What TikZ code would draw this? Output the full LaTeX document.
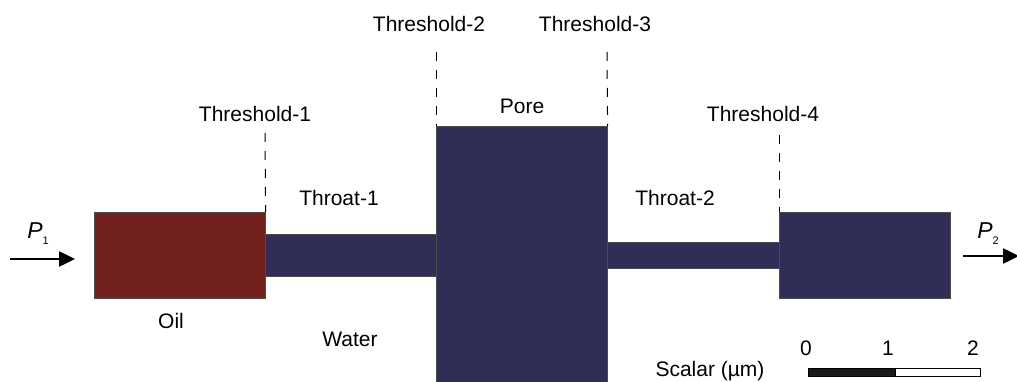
\documentclass[tikz,border=0pt]{standalone}
\usepackage{fontspec}
\setmainfont{Liberation Sans}
\usetikzlibrary{arrows.meta}
\definecolor{oilred}{RGB}{114,33,31}
\definecolor{navy}{RGB}{48,45,86}
\tikzset{
  lbl/.style={font=\fontsize{21}{25}\selectfont, inner sep=0pt},
  blk/.style={draw=black!70, line width=0.6pt, inner sep=0pt, anchor=north west},
  oilbox/.style={blk, fill=oilred},
  waterbox/.style={blk, fill=navy},
  thr/.style={dash pattern=on 9pt off 9pt, line width=1pt, draw=black},
  flow/.style={line width=2.5pt, -{Triangle[length=16pt,width=15pt]}}
}
\begin{document}
\begin{tikzpicture}[x=1pt,y=-1pt]
\useasboundingbox (0,0) rectangle (1017,382);
% channel
\node[waterbox, minimum width=171pt, minimum height=42.5pt] (throat1) at (265,233.5) {};
\node[waterbox, minimum width=172pt, minimum height=26pt] (throat2) at (607,242) {};
\node[oilbox, minimum width=171.5pt, minimum height=86pt] (oil) at (93.5,212) {};
\node[waterbox, minimum width=171pt, minimum height=86pt] (right) at (779,212) {};
\node[waterbox, minimum width=171pt, minimum height=260pt] (pore) at (436,126) {};
% thresholds
\coordinate (t1) at (265,133);
\coordinate (t2) at (436,52);
\coordinate (t3) at (607,52);
\coordinate (t4) at (779,135);
\draw[thr] (t1) -- (oil.north east);
\draw[thr] (t2) -- (pore.north west);
\draw[thr] (t3) -- (pore.north east);
\draw[thr] (t4) -- (right.north west);
% labels
\node[lbl] (lt1) at (255,114) {Threshold-1};
\node[lbl] (lt2) at (429,24) {Threshold-2};
\node[lbl] (lt3) at (595,24) {Threshold-3};
\node[lbl] (lt4) at (763,114) {Threshold-4};
\node[lbl] (lpore) at (522,106) {Pore};
\node[lbl] (lth1) at (339,198) {Throat-1};
\node[lbl] (lth2) at (675,198) {Throat-2};
\node[lbl] (loil) at (171,321) {Oil};
\node[lbl] (lwater) at (350,339) {Water};
% pressures
\node[lbl] (p1) at (38,234) {\fontsize{23}{26}\selectfont\textit{P}\raisebox{-0.5ex}{\fontsize{11}{12}\selectfont 1}};
\node[lbl] (p2) at (988,234) {\fontsize{23}{26}\selectfont\textit{P}\raisebox{-0.5ex}{\fontsize{11}{12}\selectfont 2}};
\coordinate (a1s) at (10,259);
\coordinate (a1e) at (75,259);
\coordinate (a2s) at (963,256);
\coordinate (a2e) at (1019,256);
\draw[flow] (a1s) -- (a1e);
\draw[flow] (a2s) -- (a2e);
% scale bar
\node[lbl] (s0) at (806,348) {0};
\node[lbl] (s1) at (888,348) {1};
\node[lbl] (s2) at (973,348) {2};
\node[lbl] (scal) at (710,371) {Scalar (\textmu m)};
\node[draw=black, fill=black!90, line width=0.8pt, inner sep=0pt, anchor=north west, minimum width=87pt, minimum height=8pt] (bar1) at (808,368) {};
\node[draw=black, fill=white, line width=0.8pt, inner sep=0pt, anchor=north west, minimum width=85pt, minimum height=8pt] (bar2) at (895,368) {};
\end{tikzpicture}
\end{document}
